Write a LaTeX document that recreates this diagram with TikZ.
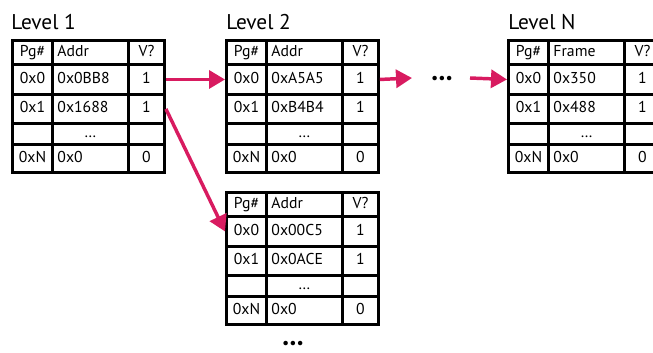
\documentclass[tikz,border=0pt]{standalone}
\usepackage{fontspec}
\setmainfont{PT Sans}
\usetikzlibrary{arrows.meta,positioning,calc}

\definecolor{ptrpink}{HTML}{D81B60}

\def\px{0.75pt} % one pixel of the layout

\tikzset{
    cell/.style={draw, line width=2.2pt, inner ysep=0pt, anchor=north west,
        text height=8.5pt, text depth=2.5pt, font=\fontsize{11.8}{14}\selectfont},
    pgcol/.style={inner xsep=0pt, minimum width=40*\px, align=center},
    adcol/.style={inner xsep=5*\px, text width=66*\px, align=left},
    vcol/.style={inner xsep=3*\px, text width=30*\px, align=center},
    title/.style={anchor=base west, inner sep=0pt, font=\fontsize{16}{19}\selectfont},
    ptr/.style={draw=ptrpink, line width=2.6pt, -{Triangle[length=12pt,width=13.5pt]}},
    more/.style={inner sep=0pt, font=\fontsize{12}{14}\selectfont},
}

% one row of a page table: name, row, top, height, page, entry, valid
\newcommand{\pgrow}[7]{%
    \node[cell, pgcol, minimum height=#4*\px] (#1-#2-pg) at (0,#3) {#5};
    \node[cell, adcol, minimum height=#4*\px] (#1-#2-ad) at (40,#3) {#6};
    \node[cell, vcol, minimum height=#4*\px] (#1-#2-v) at (116,#3) {#7};
}

% a whole page table: name, x, y, column head, entry 0, entry 1
\newcommand{\pgtable}[6]{%
    \begin{scope}[shift={(#2,#3)}]
        \pgrow{#1}{h}{0}{24}{Pg\#}{#4}{\raggedright V?}
        \pgrow{#1}{0}{24}{30}{0x0}{#5}{1}
        \pgrow{#1}{1}{54}{29}{0x1}{#6}{1}
        \pgrow{#1}{d}{83}{21}{}{\makebox[49.5pt]{…}}{}
        \pgrow{#1}{n}{104}{28}{0xN}{0x0}{0}
    \end{scope}}

\begin{document}
\begin{tikzpicture}[x=0.75pt, y=-0.75pt]
    \useasboundingbox (0,0) rectangle (653,353);

    % Tables
    \pgtable{l1}{11}{39}{Addr}{0x0BB8}{0x1688}
    \pgtable{l2}{225}{39}{Addr}{0xA5A5}{0xB4B4}
    \pgtable{ln}{507}{39}{Frame}{0x350}{0x488}
    \pgtable{lb}{225}{191}{Addr}{0x00C5}{0x0ACE}

    % Titles
    \node[title] (l1-title) at (11,30) {Level 1};
    \node[title] (l2-title) at (226,30) {Level 2};
    \node[title] (ln-title) at (508,30) {Level N};

    % Dots
    \coordinate (gap-in) at (412,78);
    \node[more] (gap-dots) at (442,80) {•••};
    \coordinate (gap-out) at (470,78);
    \node[more] (lb-more) at (293,345) {•••};

    % Pointers
    \draw[ptr] (l1-0-v.east) -- (l2-0-pg.west);
    \draw[ptr] (l1-1-v.east) -- (lb-0-pg.west);
    \draw[ptr] (l2-0-v.east) -- (gap-in);
    \draw[ptr] (gap-out) -- (ln-0-pg.west);
\end{tikzpicture}
\end{document}
